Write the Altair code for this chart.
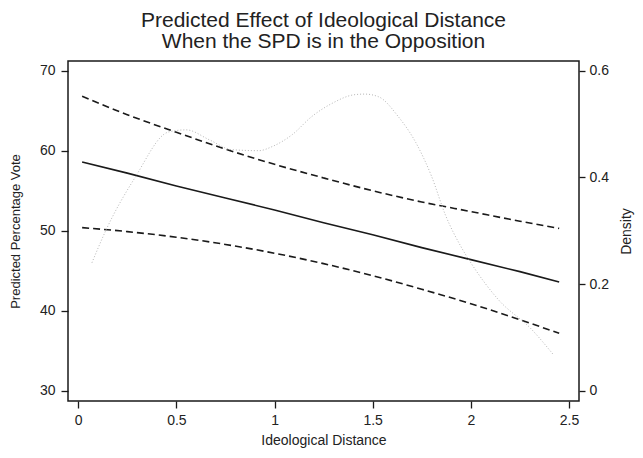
import altair as alt
import pandas as pd

# Predicted effect (left axis)
dist = [0.02, 0.25, 0.5, 0.75, 1.0, 1.25, 1.5, 1.75, 2.0, 2.25, 2.45]
pred = [58.6, 57.2, 55.6, 54.1, 52.6, 51.0, 49.5, 47.9, 46.4, 44.9, 43.6]
upper = [66.8, 64.5, 62.3, 60.2, 58.3, 56.6, 55.0, 53.6, 52.4, 51.2, 50.3]
lower = [50.4, 49.9, 49.2, 48.3, 47.2, 45.9, 44.4, 42.7, 40.9, 38.9, 37.2]

# Density (right axis)
dens_x = [0.07, 0.14, 0.29, 0.46, 0.55, 0.67, 0.78, 0.92, 0.99, 1.09, 1.19, 1.29,
          1.41, 1.46, 1.53, 1.63, 1.72, 1.80, 1.87, 1.95, 2.0, 2.14, 2.31, 2.42]
dens_y = [0.24, 0.30, 0.40, 0.485, 0.489, 0.47, 0.452, 0.45, 0.458, 0.48, 0.514, 0.538,
          0.555, 0.556, 0.551, 0.514, 0.465, 0.402, 0.33, 0.27, 0.24, 0.171, 0.115, 0.068]

title_lines = ["Predicted Effect of Ideological Distance", "When the SPD is in the Opposition"]

FONT = "Liberation Sans"

pred_df = pd.DataFrame({"x": dist, "pred": pred, "upper": upper, "lower": lower})
dens_df = pd.DataFrame({"x": dens_x, "d": dens_y})

xscale = alt.Scale(domain=[-0.052, 2.551], nice=False, zero=False)
xaxis = alt.Axis(title="Ideological Distance", values=[0, 0.5, 1, 1.5, 2, 2.5],
                 format="~g", tickSize=7, labelPadding=5, titlePadding=6,
                 domain=False, grid=False)
yscale = alt.Scale(domain=[28.75, 71.2], nice=False, zero=False)
yaxis = alt.Axis(title="Predicted Percentage Vote", values=[30, 40, 50, 60, 70],
                 tickSize=7, labelPadding=6, titlePadding=17, titleFontSize=13,
                 domain=False, grid=False)

base = alt.Chart(pred_df)
x_enc = alt.X("x:Q", scale=xscale, axis=xaxis)

solid = base.mark_line(color="#1a1a1a", strokeWidth=1.6).encode(
    x=x_enc, y=alt.Y("pred:Q", scale=yscale, axis=yaxis))
up = base.mark_line(color="#1a1a1a", strokeWidth=1.6, strokeDash=[7, 4],
                    interpolate="monotone").encode(
    x=x_enc, y=alt.Y("upper:Q", scale=yscale, axis=yaxis))
lo = base.mark_line(color="#1a1a1a", strokeWidth=1.6, strokeDash=[7, 4],
                    interpolate="monotone").encode(
    x=x_enc, y=alt.Y("lower:Q", scale=yscale, axis=yaxis))

left = alt.layer(solid, up, lo)

dens = alt.Chart(dens_df).mark_line(color="#b5b5b5", strokeWidth=1, strokeDash=[1, 2],
                                    interpolate="monotone").encode(
    x=x_enc,
    y=alt.Y("d:Q", scale=alt.Scale(domain=[-0.019, 0.618], nice=False, zero=False),
            axis=alt.Axis(title="Density", orient="right", values=[0, 0.2, 0.4, 0.6],
                          format="~g", tickSize=6, labelPadding=4, titlePadding=25,
                          titleAngle=270, domain=False, grid=False)))

chart = alt.layer(left, dens).resolve_scale(y="independent").properties(
    width=511, height=340,
    title=alt.TitleParams(text=title_lines, fontSize=21, font=FONT, fontWeight="normal",
                          color="#222222", anchor="middle", offset=9, lineHeight=21),
    autosize=alt.AutoSizeParams(type="none"),
    padding={"left": 60, "top": 53, "right": 56, "bottom": 49},
).configure_view(stroke="#1a1a1a", strokeWidth=1.5).configure_axis(
    labelFont=FONT, titleFont=FONT, labelFontSize=14, titleFontSize=14,
    labelColor="#222222", titleColor="#222222", tickColor="#1a1a1a", tickWidth=1.3,
    titleFontWeight="normal"
)

chart.save("out.html", embed_options={"renderer": "svg", "actions": False})
